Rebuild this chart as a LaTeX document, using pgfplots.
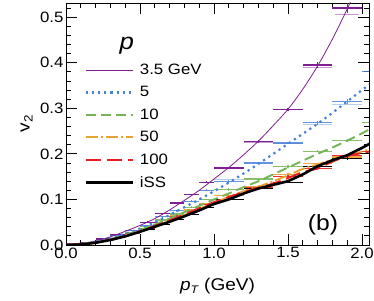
\documentclass[border=0pt]{standalone}
\usepackage{fontspec}
\setmainfont[FakeStretch=1.12]{Liberation Sans}
\usepackage{pgfplots}
\pgfplotsset{compat=1.18}
\definecolor{cpur}{RGB}{125,30,145}
\definecolor{cblu}{RGB}{70,130,215}
\definecolor{cgrn}{RGB}{115,180,85}
\definecolor{cora}{RGB}{235,160,50}
\definecolor{cred}{RGB}{232,30,30}
\begin{document}
\begin{tikzpicture}
\useasboundingbox (-66pt,-55pt) rectangle (308pt,245pt);
\begin{axis}[
  scale only axis, width=303pt, height=242pt,
  xmin=0, xmax=2.047, ymin=0, ymax=0.531,
  xtick={0,0.5,1.0,1.5,2.0}, ytick={0,0.1,0.2,0.3,0.4,0.5},
  minor xtick={0.1,0.2,...,2.0}, minor ytick={0.02,0.04,...,0.52},
  xticklabel style={yshift=1pt,/pgf/number format/.cd,fixed,fixed zerofill,precision=1},
  yticklabel style={xshift=1pt,/pgf/number format/.cd,fixed,fixed zerofill,precision=1},
  /pgf/number format/assume math mode=true,
  tick align=inside, major tick length=11pt, minor tick length=5pt,
  every tick/.style={black, line width=0.8pt},
  tick label style={font=\fontsize{15}{17}\selectfont},
  label style={font=\fontsize{17}{20}\selectfont},
  xlabel={\textit{p}\raisebox{-0.35ex}{\fontsize{11}{12}\selectfont\textit{T}} (GeV)},
  ylabel={v\raisebox{-0.35ex}{\fontsize{12}{13}\selectfont 2}},
  xlabel style={at={(axis description cs:0.5,-0.17)}, anchor=center},
  ylabel style={at={(axis description cs:-0.13,0.5)}, anchor=center},
  axis line style={line width=0.8pt},
  clip=true,
  legend cell align=left,
  legend style={draw=none, fill=none, at={(0.05,0.765)}, anchor=north west,
     font=\fontsize{15}{17}\selectfont, row sep=6.5pt, column sep=4pt},
  legend image code/.code={\draw[#1] (0pt,0pt) -- (47pt,0pt);},
  error bars/error mark=none,
]
% bins
\addplot[cpur, draw=none, forget plot, error bars/.cd, x dir=both, x explicit, y dir=both, y explicit, error bar style={line width=1.2pt, cpur}]
 coordinates {(0.05,0.002)+-(0.05,0.002) (0.15,0.005)+-(0.05,0.002) (0.25,0.013)+-(0.05,0.002) (0.35,0.022)+-(0.05,0.002) (0.45,0.032)+-(0.05,0.002) (0.55,0.05)+-(0.05,0.002) (0.65,0.069)+-(0.05,0.002) (0.75,0.092)+-(0.05,0.002) (0.85,0.11)+-(0.05,0.002) (0.95,0.138)+-(0.05,0.002) (1.1,0.169)+-(0.1,0.003) (1.3,0.227)+-(0.1,0.003) (1.5,0.298)+-(0.1,0.003) (1.7,0.395)+-(0.1,0.006) (1.9,0.52)+-(0.1,0.01)};
\addplot[cpur, draw=none, forget plot, error bars/.cd, x dir=both, x explicit, error bar style={line width=1.2pt, cpur, opacity=0.45}]
 coordinates {(1.3,0.226)+-(0.1,0) (1.7,0.39)+-(0.1,0) (1.9,0.505)+-(0.08,0)};
\addplot[cblu, draw=none, forget plot, error bars/.cd, x dir=both, x explicit, y dir=both, y explicit, error bar style={line width=1.2pt, cblu, opacity=0.85}]
 coordinates {(0.35,0.02)+-(0.05,0.002) (0.45,0.032)+-(0.05,0.002) (0.55,0.042)+-(0.05,0.002) (0.65,0.062)+-(0.05,0.002) (0.75,0.075)+-(0.05,0.002) (0.85,0.096)+-(0.05,0.002) (0.95,0.12)+-(0.05,0.002) (1.1,0.14)+-(0.1,0.003) (1.3,0.18)+-(0.1,0.003) (1.5,0.224)+-(0.1,0.003) (1.7,0.268)+-(0.1,0.004) (1.9,0.315)+-(0.1,0.006) (2.1,0.38)+-(0.1,0.006)};
\addplot[cblu, draw=none, forget plot, error bars/.cd, x dir=both, x explicit, error bar style={line width=1.2pt, cblu, opacity=0.4}]
 coordinates {(1.1,0.143)+-(0.1,0) (1.5,0.222)+-(0.1,0) (1.7,0.264)+-(0.1,0) (1.9,0.309)+-(0.1,0)};
\addplot[cgrn, draw=none, forget plot, error bars/.cd, x dir=both, x explicit, y dir=both, y explicit, error bar style={line width=1.2pt, cgrn, opacity=0.85}]
 coordinates {(0.45,0.028)+-(0.05,0.002) (0.55,0.04)+-(0.05,0.002) (0.65,0.055)+-(0.05,0.002) (0.75,0.068)+-(0.05,0.002) (0.85,0.083)+-(0.05,0.002) (0.95,0.1)+-(0.05,0.002) (1.1,0.122)+-(0.1,0.003) (1.3,0.145)+-(0.1,0.003) (1.5,0.173)+-(0.1,0.003) (1.7,0.206)+-(0.1,0.003) (1.9,0.229)+-(0.1,0.004) (2.1,0.268)+-(0.1,0.004)};
\addplot[cora, draw=none, forget plot, error bars/.cd, x dir=both, x explicit, y dir=both, y explicit, error bar style={line width=1.2pt, cora, opacity=0.9}]
 coordinates {(0.55,0.037)+-(0.05,0.002) (0.65,0.05)+-(0.05,0.002) (0.75,0.064)+-(0.05,0.002) (0.85,0.077)+-(0.05,0.002) (0.95,0.09)+-(0.05,0.002) (1.1,0.108)+-(0.1,0.003) (1.3,0.128)+-(0.1,0.003) (1.5,0.155)+-(0.1,0.003) (1.7,0.178)+-(0.1,0.003) (1.9,0.193)+-(0.1,0.004)};
\addplot[cred, draw=none, forget plot, error bars/.cd, x dir=both, x explicit, y dir=both, y explicit, error bar style={line width=1.2pt, cred, opacity=0.9}]
 coordinates {(0.05,0.001)+-(0.05,0.001) (0.45,0.025)+-(0.05,0.002) (0.55,0.037)+-(0.05,0.002) (0.65,0.05)+-(0.05,0.002) (0.75,0.063)+-(0.05,0.002) (0.85,0.074)+-(0.05,0.002) (0.95,0.088)+-(0.05,0.002) (1.1,0.1)+-(0.1,0.003) (1.3,0.125)+-(0.1,0.003) (1.5,0.15)+-(0.1,0.003) (1.7,0.167)+-(0.1,0.003) (1.9,0.196)+-(0.1,0.004) (2.1,0.205)+-(0.1,0.004)};
\addplot[black, draw=none, forget plot, error bars/.cd, x dir=both, x explicit, y dir=both, y explicit, error bar style={line width=1.0pt, black}]
 coordinates {(0.55,0.035)+-(0.05,0.002) (0.65,0.045)+-(0.05,0.002) (0.75,0.057)+-(0.05,0.002) (0.85,0.068)+-(0.05,0.002) (0.95,0.083)+-(0.05,0.002) (1.1,0.1)+-(0.1,0.003) (1.3,0.124)+-(0.1,0.003) (1.5,0.138)+-(0.1,0.003) (1.7,0.172)+-(0.1,0.003) (1.9,0.19)+-(0.1,0.004)};
% curves
\addplot[cpur, line width=0.8pt, smooth] coordinates {(0,0) (0.1,0.003) (0.2,0.009) (0.3,0.018) (0.4,0.03) (0.5,0.043) (0.6,0.058) (0.7,0.077) (0.8,0.098) (0.9,0.12) (1.0,0.145) (1.1,0.17) (1.2,0.198) (1.3,0.228) (1.4,0.262) (1.5,0.298) (1.6,0.342) (1.7,0.393) (1.8,0.452) (1.9,0.518) (1.95,0.555)};
\addlegendentry{3.5 GeV}
\addplot[cblu, line width=2.2pt, dash pattern=on 2.2pt off 4pt, smooth] coordinates {(0,0) (0.2,0.007) (0.4,0.025) (0.5,0.036) (0.6,0.05) (0.7,0.066) (0.8,0.083) (0.9,0.1) (1.0,0.118) (1.1,0.137) (1.2,0.157) (1.3,0.178) (1.4,0.2) (1.5,0.222) (1.6,0.244) (1.7,0.266) (1.8,0.29) (1.9,0.315) (2.0,0.34) (2.05,0.352)};
\addlegendentry{5}
\addplot[cgrn, line width=1.9pt, dash pattern=on 10pt off 5pt, smooth] coordinates {(0,0) (0.2,0.006) (0.4,0.022) (0.6,0.045) (0.8,0.072) (1.0,0.1) (1.1,0.113) (1.2,0.127) (1.3,0.14) (1.4,0.155) (1.5,0.17) (1.6,0.185) (1.7,0.2) (1.8,0.214) (1.9,0.229) (2.0,0.245) (2.05,0.254)};
\addlegendentry{10}
\addplot[cora, line width=1.9pt, dash pattern=on 12pt off 3pt on 2pt off 3pt, smooth] coordinates {(0,0) (0.2,0.005) (0.4,0.02) (0.6,0.041) (0.8,0.066) (1.0,0.093) (1.2,0.118) (1.3,0.128) (1.4,0.14) (1.5,0.153) (1.6,0.167) (1.7,0.177) (1.8,0.187) (1.9,0.195) (2.0,0.205) (2.05,0.21)};
\addlegendentry{50}
\addplot[cred, line width=1.9pt, dash pattern=on 15pt off 6pt, smooth] coordinates {(0,0) (0.2,0.005) (0.4,0.02) (0.6,0.042) (0.8,0.067) (1.0,0.094) (1.2,0.116) (1.4,0.135) (1.5,0.147) (1.6,0.16) (1.7,0.168) (1.8,0.183) (1.9,0.195) (2.0,0.202) (2.05,0.205)};
\addlegendentry{100}
\addplot[black, line width=2.6pt] coordinates {(0,0) (0.1,0.001) (0.2,0.005) (0.3,0.011) (0.4,0.019) (0.5,0.029) (0.6,0.04) (0.7,0.051) (0.8,0.063) (0.9,0.076) (1.0,0.09) (1.1,0.1) (1.2,0.113) (1.3,0.124) (1.4,0.132) (1.5,0.14) (1.6,0.155) (1.7,0.173) (1.8,0.186) (1.9,0.197) (2.0,0.213) (2.05,0.222)};
\addlegendentry{iSS}
\node[font=\fontsize{23}{26}\selectfont\itshape] at (axis cs:0.41,0.437) {p};
\node[font=\fontsize{22}{26}\selectfont] at (axis cs:1.736,0.045) {(b)};
\end{axis}
\end{tikzpicture}
\end{document}
